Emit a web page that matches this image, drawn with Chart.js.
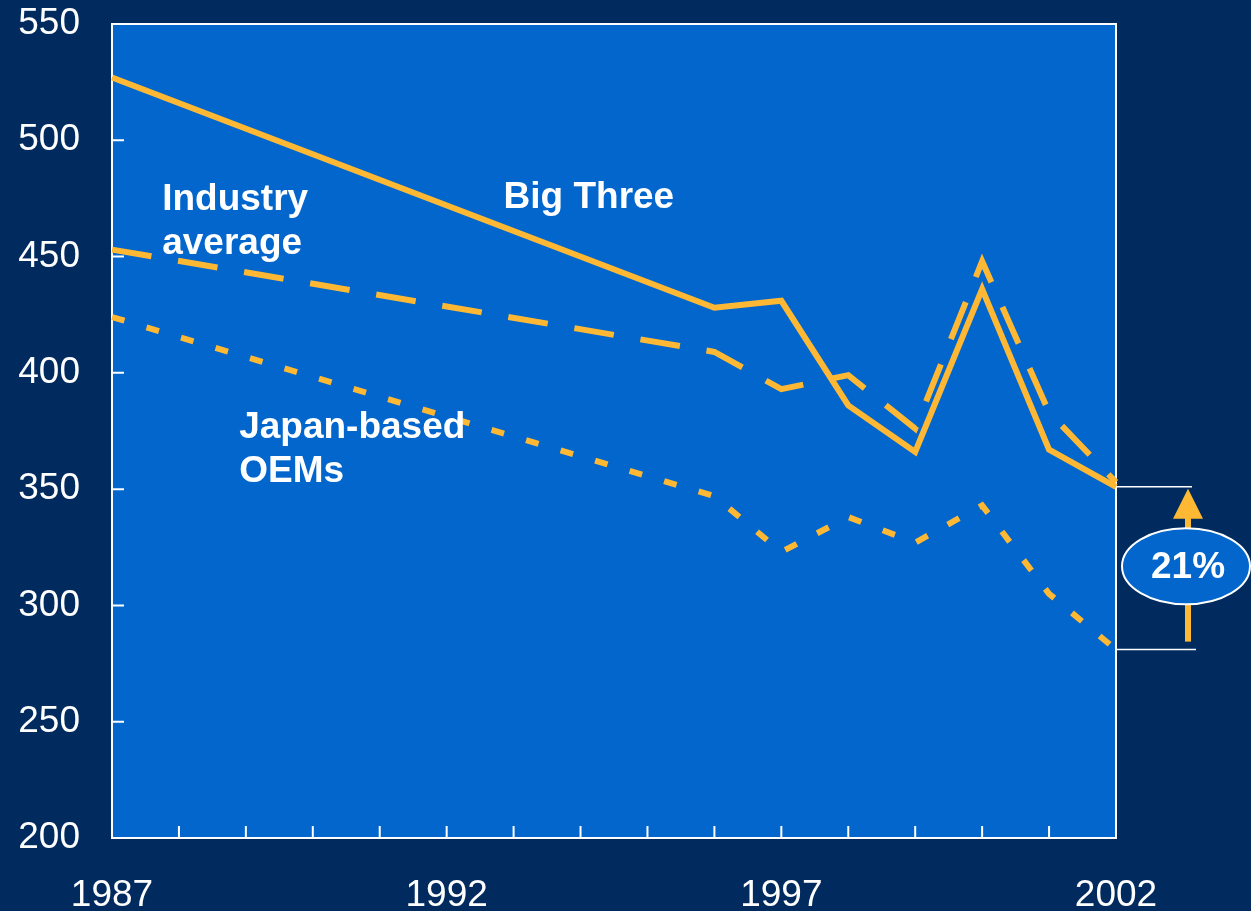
<!DOCTYPE html>
<html>
<head>
<meta charset="utf-8">
<script src="https://cdn.jsdelivr.net/npm/chart.js@4.4.1/dist/chart.umd.min.js"></script>
<style>
  html, body { margin: 0; padding: 0; background: #012a5e; }
  #wrap { width: 1251px; height: 911px; }
</style>
</head>
<body>
<div id="wrap"><canvas id="costChart" width="1251" height="911"></canvas></div>
<script>
  // Years on the x axis; only every fifth one gets a label
  const years = ['1987', '1988', '1989', '1990', '1991', '1992', '1993', '1994',
                 '1995', '1996', '1997', '1998', '1999', '2000', '2001', '2002'];
  const labelledYears = ['1987', '1992', '1997', '2002'];

  // Series values (gaps are spanned with a straight line)
  const bigThree    = [527, null, null, null, null, null, null, null, null, 428, 431, 386, 366, 436, 367, 351];
  const industryAvg = [453, null, null, null, null, null, null, null, null, 409, 393, 399, 376, 448, 383, 353];
  const japanOems   = [424, null, null, null, null, null, null, null, null, 347, 323, 338, 327, 343, 305, 281];

  const yTicks = [200, 250, 300, 350, 400, 450, 500, 550];
  const gapLabel = '21%';

  const NAVY = '#012a5e';
  const PLOT = '#0266cc';
  const GOLD = '#ffb833';
  const WHITE = '#ffffff';

  // Series names placed inside the plot, anchored in data space (x = year index, y = value at baseline)
  const seriesNotes = [
    { lines: ['Big Three'], x: 5.85, y: 471 },
    { lines: ['Industry', 'average'], x: 0.75, y: 470 },
    { lines: ['Japan-based', 'OEMs'], x: 1.9, y: 372 }
  ];

  const framePlugin = {
    id: 'frame',
    beforeDraw(chart) {
      const { ctx, chartArea: a } = chart;
      ctx.save();
      ctx.fillStyle = NAVY;
      ctx.fillRect(0, 0, chart.width, chart.height);
      ctx.fillStyle = PLOT;
      ctx.fillRect(a.left, a.top, a.right - a.left, a.bottom - a.top);
      ctx.restore();
    },
    beforeDatasetsDraw(chart) {
      const { ctx, chartArea: a, scales: { x, y } } = chart;
      ctx.save();
      ctx.strokeStyle = WHITE;
      ctx.lineWidth = 2;
      ctx.strokeRect(a.left, a.top, a.right - a.left, a.bottom - a.top);
      // inner tick marks
      ctx.beginPath();
      years.forEach((yr, i) => {
        const px = x.getPixelForValue(i);
        ctx.moveTo(px, a.bottom);
        ctx.lineTo(px, a.bottom - 12);
      });
      yTicks.forEach(v => {
        const py = y.getPixelForValue(v);
        ctx.moveTo(a.left, py);
        ctx.lineTo(a.left + 12, py);
      });
      ctx.stroke();
      ctx.restore();
    },
    afterDatasetsDraw(chart) {
      const { ctx, chartArea: a, scales: { x, y } } = chart;
      ctx.save();
      ctx.fillStyle = WHITE;
      ctx.font = 'bold 37px "Liberation Sans", Arial, sans-serif';
      ctx.textAlign = 'left';
      ctx.textBaseline = 'alphabetic';
      seriesNotes.forEach(n => {
        const px = x.getPixelForValue(n.x);
        const py = y.getPixelForValue(n.y);
        n.lines.forEach((t, k) => ctx.fillText(t, px, py + k * 44));
      });

      // gap between the 2002 end points: guide lines, arrow and ellipse
      const last = years.length - 1;
      const yTop = y.getPixelForValue(bigThree[last]);
      const yBot = y.getPixelForValue(japanOems[last]);
      ctx.strokeStyle = WHITE;
      ctx.lineWidth = 1.5;
      ctx.beginPath();
      ctx.moveTo(a.right, yTop); ctx.lineTo(a.right + 76, yTop);
      ctx.moveTo(a.right, yBot); ctx.lineTo(a.right + 80, yBot);
      ctx.stroke();

      const ax = a.right + 72;
      ctx.strokeStyle = GOLD;
      ctx.lineWidth = 6;
      ctx.beginPath();
      ctx.moveTo(ax, yBot - 8);
      ctx.lineTo(ax, yTop + 30);
      ctx.stroke();
      ctx.fillStyle = GOLD;
      ctx.beginPath();
      ctx.moveTo(ax, yTop + 2);
      ctx.lineTo(ax - 15, yTop + 32);
      ctx.lineTo(ax + 15, yTop + 32);
      ctx.closePath();
      ctx.fill();

      const cy = (yTop + yBot) / 2 - 2;
      ctx.fillStyle = PLOT;
      ctx.strokeStyle = WHITE;
      ctx.lineWidth = 2;
      ctx.beginPath();
      ctx.ellipse(ax - 2, cy, 64, 38, 0, 0, Math.PI * 2);
      ctx.fill();
      ctx.stroke();
      ctx.fillStyle = WHITE;
      ctx.font = 'bold 37px "Liberation Sans", Arial, sans-serif';
      ctx.textAlign = 'center';
      ctx.textBaseline = 'middle';
      ctx.fillText(gapLabel, ax, cy + 2);
      ctx.restore();
    }
  };

  const lineStyle = {
    borderColor: GOLD,
    borderWidth: 6,
    pointRadius: 0,
    tension: 0,
    spanGaps: true,
    fill: false,
    borderJoinStyle: 'miter'
  };

  new Chart(document.getElementById('costChart'), {
    type: 'line',
    data: {
      labels: years,
      datasets: [
        Object.assign({ label: 'Big Three', data: bigThree }, lineStyle),
        Object.assign({ label: 'Industry average', data: industryAvg, borderDash: [40, 27] }, lineStyle),
        Object.assign({ label: 'Japan-based OEMs', data: japanOems, borderDash: [13, 23] }, lineStyle)
      ]
    },
    options: {
      responsive: false,
      animation: false,
      events: [],
      layout: { padding: { top: 24, right: 135, left: 0, bottom: 0 } },
      plugins: { legend: { display: false }, tooltip: { enabled: false } },
      scales: {
        x: {
          offset: false,
          grid: { display: false, drawTicks: false },
          border: { display: false },
          afterFit: s => { s.height = 73; s.paddingLeft = 0; s.paddingRight = 0; },
          ticks: {
            color: WHITE,
            autoSkip: false,
            maxRotation: 0,
            padding: 36,
            font: { family: '"Liberation Sans", Arial, sans-serif', size: 37 },
            callback: function (v) {
              const lbl = this.getLabelForValue(v);
              return labelledYears.includes(lbl) ? lbl : '';
            }
          }
        },
        y: {
          min: 200,
          max: 550,
          grid: { display: false, drawTicks: false },
          border: { display: false },
          afterFit: s => { s.width = 112; s.paddingTop = 0; s.paddingBottom = 0; },
          ticks: {
            color: WHITE,
            stepSize: 50,
            padding: 32,
            font: { family: '"Liberation Sans", Arial, sans-serif', size: 37 }
          }
        }
      }
    },
    plugins: [framePlugin]
  });
</script>
</body>
</html>
